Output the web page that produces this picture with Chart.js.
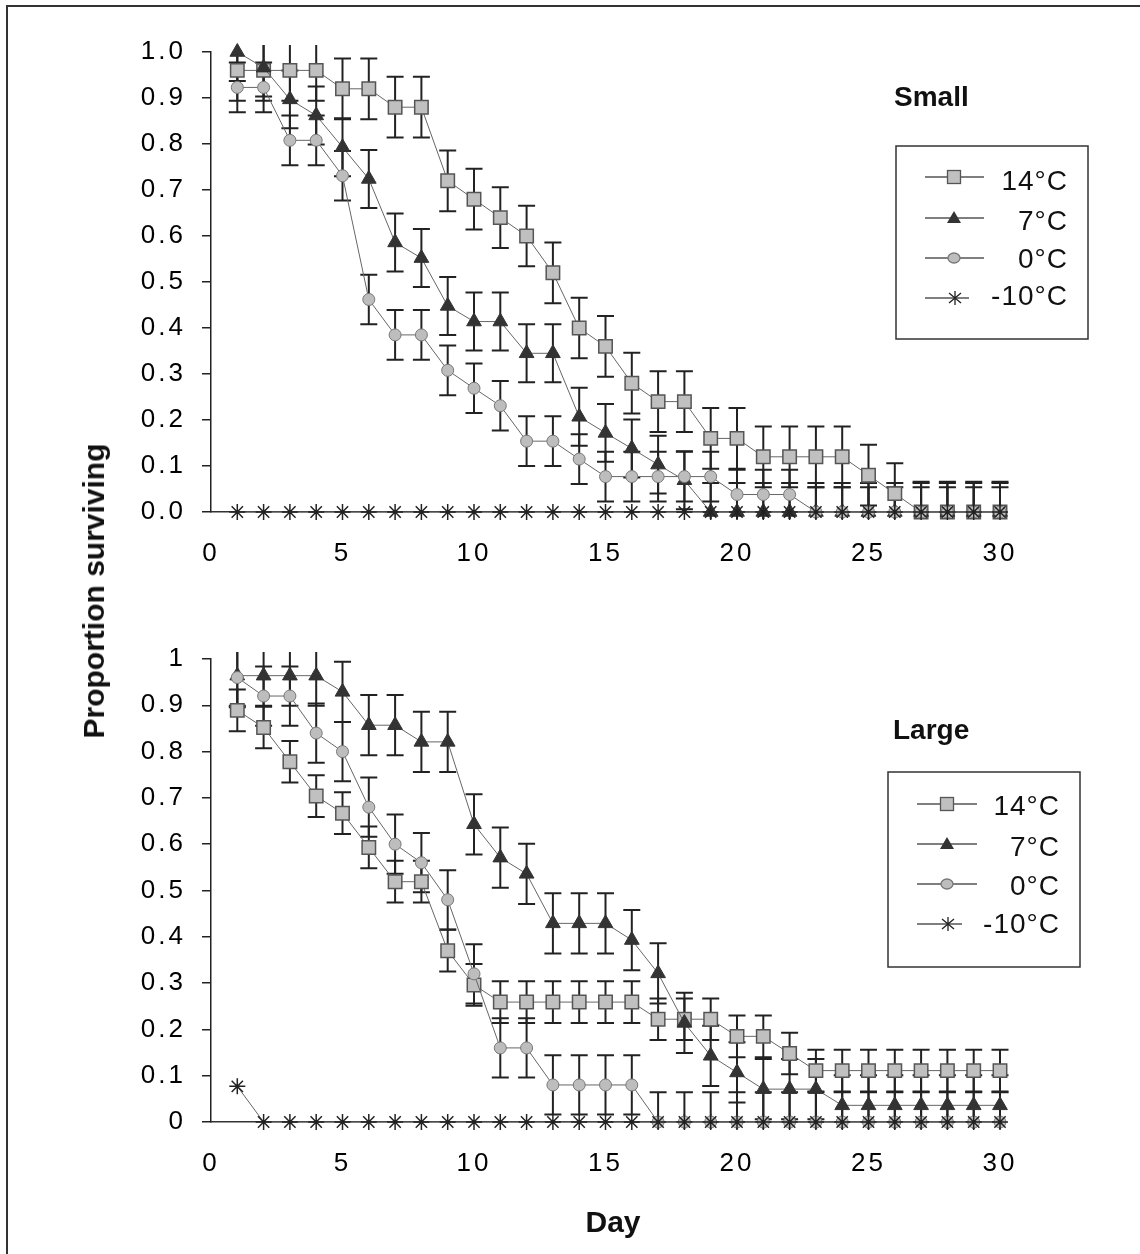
<!DOCTYPE html>
<html>
<head>
<meta charset="utf-8">
<script src="https://cdn.jsdelivr.net/npm/chart.js@4.4.1/dist/chart.umd.min.js"></script>
<style>
  html, body { margin: 0; padding: 0; background: #fff; }
  body { width: 1140px; height: 1254px; position: relative; overflow: hidden;
         font-family: "Liberation Sans", Arial, sans-serif; }
  .frame { position: absolute; left: 6px; top: 5px; width: 1200px; height: 1300px; border: 2px solid #333; }
  .wrap { position: absolute; left: 0; }
  #smallWrap { top: 0; width: 1140px; height: 600px; }
  #largeWrap { top: 600px; width: 1140px; height: 654px; }
  .title { position: absolute; font-weight: bold; color: #111; white-space: nowrap; }
  #yTitle { left: 94px; top: 591px; font-size: 30px; line-height: 30px;
            transform: translate(-50%, -50%) rotate(-90deg); }
  #xTitle { left: 613px; top: 1222px; font-size: 30px; line-height: 30px;
            transform: translate(-50%, -50%); }
  #smallTitle { left: 894px; top: 83px; font-size: 28px; line-height: 28px; }
  #largeTitle { left: 893px; top: 716px; font-size: 28px; line-height: 28px; }
</style>
</head>
<body>
<div class="frame"></div>
<div class="wrap" id="smallWrap"><canvas id="small" width="1140" height="600"></canvas></div>
<div class="wrap" id="largeWrap"><canvas id="large" width="1140" height="654"></canvas></div>
<div class="title" id="yTitle">Proportion surviving</div>
<div class="title" id="xTitle">Day</div>
<div class="title" id="smallTitle">Small</div>
<div class="title" id="largeTitle">Large</div>
<script>
// data
const days = [1, 2, 3, 4, 5, 6, 7, 8, 9, 10, 11, 12, 13, 14, 15, 16, 17, 18, 19, 20, 21, 22, 23, 24, 25, 26, 27, 28, 29, 30];
const seriesNames = ["14°C", "7°C", "0°C", "-10°C"];
const yLabelsSmall = ["0.0", "0.1", "0.2", "0.3", "0.4", "0.5", "0.6", "0.7", "0.8", "0.9", "1.0"];
const yLabelsLarge = ["0", "0.1", "0.2", "0.3", "0.4", "0.5", "0.6", "0.7", "0.8", "0.9", "1"];

// Small
const small14 = [0.96, 0.96, 0.96, 0.96, 0.92, 0.92, 0.88, 0.88, 0.72, 0.68, 0.64, 0.60, 0.52, 0.40, 0.36, 0.28, 0.24, 0.24, 0.16, 0.16, 0.12, 0.12, 0.12, 0.12, 0.08, 0.04, 0, 0, 0, 0];
const small7 = [1.00, 0.966, 0.897, 0.862, 0.793, 0.724, 0.586, 0.552, 0.448, 0.414, 0.414, 0.345, 0.345, 0.207, 0.172, 0.138, 0.103, 0.069, 0, 0, 0, 0, 0, 0, 0, 0, 0, 0, 0, 0];
const small0 = [0.923, 0.923, 0.808, 0.808, 0.731, 0.462, 0.385, 0.385, 0.308, 0.269, 0.231, 0.154, 0.154, 0.115, 0.077, 0.077, 0.077, 0.077, 0.077, 0.038, 0.038, 0.038, 0, 0, 0, 0, 0, 0, 0, 0];
const smallM10 = [0, 0, 0, 0, 0, 0, 0, 0, 0, 0, 0, 0, 0, 0, 0, 0, 0, 0, 0, 0, 0, 0, 0, 0, 0, 0, 0, 0, 0, 0];
const smallErr14 = [0.066, 0.066, 0.066, 0.066, 0.066, 0.066, 0.066, 0.066, 0.066, 0.066, 0.066, 0.066, 0.066, 0.066, 0.066, 0.066, 0.066, 0.066, 0.066, 0.066, 0.066, 0.066, 0.066, 0.066, 0.066, 0.066, 0.066, 0.066, 0.066, 0.066];
const smallErr7 = [0.063, 0.063, 0.063, 0.063, 0.063, 0.063, 0.063, 0.063, 0.063, 0.063, 0.063, 0.063, 0.063, 0.063, 0.063, 0.063, 0.063, 0.063, 0.063, 0.063, 0.063, 0.063, 0.063, 0.063, 0.063, 0.063, 0.063, 0.063, 0.063, 0.063];
const smallErr0 = [0.054, 0.054, 0.054, 0.054, 0.054, 0.054, 0.054, 0.054, 0.054, 0.054, 0.054, 0.054, 0.054, 0.054, 0.054, 0.054, 0.054, 0.054, 0.054, 0.054, 0.054, 0.054, 0.054, 0.054, 0.054, 0.054, 0.054, 0.054, 0.054, 0.054];
const smallErrM10 = [0, 0, 0, 0, 0, 0, 0, 0, 0, 0, 0, 0, 0, 0, 0, 0, 0, 0, 0, 0, 0, 0, 0, 0, 0, 0, 0, 0, 0, 0];

// Large
const large14 = [0.889, 0.852, 0.778, 0.704, 0.667, 0.593, 0.519, 0.519, 0.370, 0.296, 0.259, 0.259, 0.259, 0.259, 0.259, 0.259, 0.222, 0.222, 0.222, 0.185, 0.185, 0.148, 0.111, 0.111, 0.111, 0.111, 0.111, 0.111, 0.111, 0.111];
const large7 = [0.964, 0.964, 0.964, 0.964, 0.929, 0.857, 0.857, 0.821, 0.821, 0.643, 0.571, 0.536, 0.429, 0.429, 0.429, 0.393, 0.321, 0.214, 0.143, 0.107, 0.071, 0.071, 0.071, 0.036, 0.036, 0.036, 0.036, 0.036, 0.036, 0.036];
const large0 = [0.96, 0.92, 0.92, 0.84, 0.80, 0.68, 0.60, 0.56, 0.48, 0.32, 0.16, 0.16, 0.08, 0.08, 0.08, 0.08, 0, 0, 0, 0, 0, 0, 0, 0, 0, 0, 0, 0, 0, 0];
const largeM10 = [0.077, 0, 0, 0, 0, 0, 0, 0, 0, 0, 0, 0, 0, 0, 0, 0, 0, 0, 0, 0, 0, 0, 0, 0, 0, 0, 0, 0, 0, 0];
const largeErr14 = [0.045, 0.045, 0.045, 0.045, 0.045, 0.045, 0.045, 0.045, 0.045, 0.045, 0.045, 0.045, 0.045, 0.045, 0.045, 0.045, 0.045, 0.045, 0.045, 0.045, 0.045, 0.045, 0.045, 0.045, 0.045, 0.045, 0.045, 0.045, 0.045, 0.045];
const largeErr7 = [0.065, 0.065, 0.065, 0.065, 0.065, 0.065, 0.065, 0.065, 0.065, 0.065, 0.065, 0.065, 0.065, 0.065, 0.065, 0.065, 0.065, 0.065, 0.065, 0.065, 0.065, 0.065, 0.065, 0.065, 0.065, 0.065, 0.065, 0.065, 0.065, 0.065];
const largeErr0 = [0.064, 0.064, 0.064, 0.064, 0.064, 0.064, 0.064, 0.064, 0.064, 0.064, 0.064, 0.064, 0.064, 0.064, 0.064, 0.064, 0.064, 0.064, 0.064, 0.064, 0.064, 0.064, 0.064, 0.064, 0.064, 0.064, 0.064, 0.064, 0.064, 0.064];
const largeErrM10 = [0, 0, 0, 0, 0, 0, 0, 0, 0, 0, 0, 0, 0, 0, 0, 0, 0, 0, 0, 0, 0, 0, 0, 0, 0, 0, 0, 0, 0, 0];

Chart.defaults.font.family = '"Liberation Sans", Arial, sans-serif';

// marker looks, in series order (later series sit on top)
const markerStyles = [
    { pointStyle: 'rect', pointRadius: 9.5, pointBackgroundColor: '#c0c0c0', pointBorderColor: '#555', pointBorderWidth: 1.5, order: 3 },
    { pointStyle: 'triangle', pointRadius: 8.5, pointBackgroundColor: '#333', pointBorderColor: '#333', pointBorderWidth: 1, order: 2 },
    { pointStyle: 'circle', pointRadius: 6, pointBackgroundColor: '#bdbdbd', pointBorderColor: '#777', pointBorderWidth: 1, order: 1 },
    { pointStyle: 'star', pointRadius: 8, pointBackgroundColor: '#222', pointBorderColor: '#222', pointBorderWidth: 1.5, order: 0 }
];

function drawMarker(ctx, kind, x, y) {
    ctx.save();
    ctx.lineWidth = 1.3;
    if (kind === 'rect') {
        ctx.fillStyle = '#c0c0c0'; ctx.strokeStyle = '#555';
        ctx.fillRect(x - 6.5, y - 6.5, 13, 13);
        ctx.strokeRect(x - 6.5, y - 6.5, 13, 13);
    } else if (kind === 'triangle') {
        ctx.fillStyle = '#333';
        ctx.beginPath();
        ctx.moveTo(x, y - 7); ctx.lineTo(x + 7, y + 5); ctx.lineTo(x - 7, y + 5);
        ctx.closePath(); ctx.fill();
    } else if (kind === 'circle') {
        ctx.fillStyle = '#bdbdbd'; ctx.strokeStyle = '#777';
        ctx.beginPath(); ctx.ellipse(x, y, 6, 5, 0, 0, Math.PI * 2);
        ctx.fill(); ctx.stroke();
    } else {
        ctx.strokeStyle = '#222';
        ctx.beginPath();
        ctx.moveTo(x, y - 7); ctx.lineTo(x, y + 7);
        ctx.moveTo(x - 6, y - 5); ctx.lineTo(x + 6, y + 5);
        ctx.moveTo(x - 6, y + 5); ctx.lineTo(x + 6, y - 5);
        ctx.stroke();
    }
    ctx.restore();
}

// vertical error bars, clipped just outside the 0..1 range
const errorBars = {
    id: 'errorBars',
    beforeDatasetsDraw(chart) {
        const ctx = chart.ctx;
        const ys = chart.scales.y;
        const hi = ys.getPixelForValue(1.015);
        const lo = ys.getPixelForValue(-0.015);
        ctx.save();
        ctx.strokeStyle = '#222';
        ctx.lineWidth = 2;
        chart.data.datasets.forEach((ds, i) => {
            const meta = chart.getDatasetMeta(i);
            meta.data.forEach((pt, j) => {
                const e = ds.errors[j];
                if (!e) return;
                const v = ds.data[j].y;
                let top = ys.getPixelForValue(v + e);
                let bot = ys.getPixelForValue(v - e);
                const capTop = top >= hi, capBot = bot <= lo;
                top = Math.max(top, hi);
                bot = Math.min(bot, lo);
                ctx.beginPath();
                ctx.moveTo(pt.x, top); ctx.lineTo(pt.x, bot);
                if (capTop) { ctx.moveTo(pt.x - 8.5, top); ctx.lineTo(pt.x + 8.5, top); }
                if (capBot) { ctx.moveTo(pt.x - 8.5, bot); ctx.lineTo(pt.x + 8.5, bot); }
                ctx.stroke();
            });
        });
        ctx.restore();
    }
};

// wider-looking tick text
const tickSpacing = {
    id: 'tickSpacing',
    beforeDraw(chart) { chart.ctx.letterSpacing = '3px'; }
};

// boxed legend with line+marker samples and right-aligned labels
const boxLegend = {
    id: 'boxLegend',
    afterDraw(chart, args, opts) {
        const ctx = chart.ctx;
        ctx.save();
        ctx.letterSpacing = '1px';
        ctx.strokeStyle = '#333';
        ctx.lineWidth = 1.5;
        ctx.strokeRect(opts.box[0], opts.box[1], opts.box[2], opts.box[3]);
        chart.data.datasets.forEach((ds, i) => {
            const ly = opts.rows[i];
            const x2 = i === 3 ? opts.lineEnd - 15 : opts.lineEnd;
            ctx.strokeStyle = '#555';
            ctx.lineWidth = 1.5;
            ctx.beginPath(); ctx.moveTo(opts.lineStart, ly); ctx.lineTo(x2, ly); ctx.stroke();
            drawMarker(ctx, markerStyles[i].pointStyle, i === 3 ? opts.markerX + 1 : opts.markerX, ly);
            ctx.fillStyle = '#111';
            ctx.font = '28px "Liberation Sans", Arial, sans-serif';
            ctx.textAlign = 'right';
            ctx.textBaseline = 'alphabetic';
            ctx.fillText(ds.label, opts.textRight + 1, opts.baselines[i]);
        });
        ctx.restore();
    }
};

function makeChart(id, values, errors, yLabels, area, legendOpts) {
    const datasets = values.map((vals, i) => Object.assign({
        label: seriesNames[i],
        data: days.map((d, k) => ({ x: d, y: vals[k] })),
        errors: errors[i],
        borderColor: '#666',
        borderWidth: 1,
        tension: 0,
        clip: false
    }, markerStyles[i]));

    return new Chart(document.getElementById(id), {
        type: 'line',
        data: { datasets },
        options: {
            responsive: false,
            animation: false,
            events: [],
            layout: { padding: { top: area.top, right: area.right, left: 0, bottom: 0 } },
            scales: {
                x: {
                    type: 'linear', min: 0, max: 30,
                    ticks: { stepSize: 5, padding: 26, color: '#000', font: { size: 26 } },
                    grid: { drawOnChartArea: false, drawTicks: false },
                    border: { display: true, color: '#333', width: 1.5 },
                    afterFit(s) { s.height = area.xHeight; }
                },
                y: {
                    min: 0, max: 1,
                    ticks: {
                        stepSize: 0.1, padding: 16, color: '#000', font: { size: 26 },
                        callback: v => yLabels[Math.round(v * 10)]
                    },
                    grid: { drawOnChartArea: false, drawTicks: true, tickLength: 9, color: '#222', lineWidth: 1.5 },
                    border: { display: true, color: '#222', width: 1.5 },
                    afterFit(s) { s.width = 211; }
                }
            },
            plugins: {
                legend: { display: false },
                tooltip: { enabled: false },
                boxLegend: legendOpts
            }
        },
        plugins: [tickSpacing, errorBars, boxLegend]
    });
}

makeChart('small',
    [small14, small7, small0, smallM10],
    [smallErr14, smallErr7, smallErr0, smallErrM10],
    yLabelsSmall,
    { top: 52, right: 140, xHeight: 88 },
    { box: [896, 146, 192, 193], rows: [177, 218, 258, 298], baselines: [190, 230, 268, 305],
      lineStart: 925, lineEnd: 984, markerX: 954, textRight: 1067 });

makeChart('large',
    [large14, large7, large0, largeM10],
    [largeErr14, largeErr7, largeErr0, largeErrM10],
    yLabelsLarge,
    { top: 59, right: 140, xHeight: 132 },
    { box: [888, 172, 192, 195], rows: [204, 244, 284, 324], baselines: [215, 256, 295, 333],
      lineStart: 917, lineEnd: 977, markerX: 947, textRight: 1059 });
</script>
</body>
</html>
